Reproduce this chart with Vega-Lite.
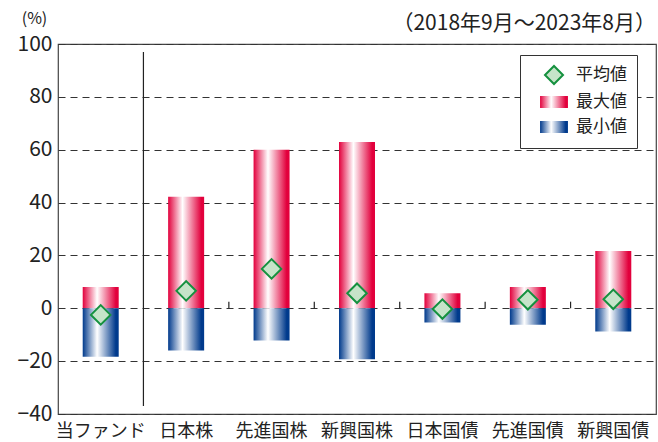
{
  "$schema": "https://vega.github.io/schema/vega-lite/v6.json",
  "width": 598,
  "height": 370,
  "autosize": {"type": "none"},
  "padding": {"left": 58, "top": 44, "right": 2, "bottom": 28},
  "config": {
    "font": "Noto Sans CJK JP",
    "view": {"stroke": "#444", "strokeWidth": 1.2},
    "axis": {"labelColor": "#222", "titleColor": "#222"},
    "legend": {
      "orient": "none", "legendX": 462, "legendY": 11,
      "strokeColor": "#333", "fillColor": "white", "padding": 10, "cornerRadius": 0,
      "labelFontSize": 17, "labelColor": "#222", "rowPadding": 3, "labelOffset": 12,
      "symbolOffset": 14, "symbolSize": 324, "symbolOpacity": 1
    }
  },
  "title": {"text": "（2018年9月～2023年8月）", "anchor": "end", "fontSize": 21, "fontWeight": "normal", "color": "#222", "offset": 9, "dy": 33, "font": "Noto Sans CJK JP"},
  "data": {"values": [
    {"cat": "当ファンド", "series": "最大値", "value": 8.1},
    {"cat": "当ファンド", "series": "最小値", "value": -18.3},
    {"cat": "当ファンド", "series": "平均値", "value": -2.5},
    {"cat": "日本株", "series": "最大値", "value": 42.2},
    {"cat": "日本株", "series": "最小値", "value": -16.0},
    {"cat": "日本株", "series": "平均値", "value": 6.6},
    {"cat": "先進国株", "series": "最大値", "value": 60.0},
    {"cat": "先進国株", "series": "最小値", "value": -12.2},
    {"cat": "先進国株", "series": "平均値", "value": 14.9},
    {"cat": "新興国株", "series": "最大値", "value": 62.9},
    {"cat": "新興国株", "series": "最小値", "value": -19.3},
    {"cat": "新興国株", "series": "平均値", "value": 5.7},
    {"cat": "日本国債", "series": "最大値", "value": 5.7},
    {"cat": "日本国債", "series": "最小値", "value": -5.4},
    {"cat": "日本国債", "series": "平均値", "value": -0.3},
    {"cat": "先進国債", "series": "最大値", "value": 8.1},
    {"cat": "先進国債", "series": "最小値", "value": -6.2},
    {"cat": "先進国債", "series": "平均値", "value": 3.2},
    {"cat": "新興国債", "series": "最大値", "value": 21.7},
    {"cat": "新興国債", "series": "最小値", "value": -8.8},
    {"cat": "新興国債", "series": "平均値", "value": 3.4}
  ]},
  "encoding": {
    "x": {
      "field": "cat", "type": "nominal",
      "sort": ["当ファンド", "日本株", "先進国株", "新興国株", "日本国債", "先進国債", "新興国債"],
      "scale": {"paddingInner": 0, "paddingOuter": 0},
      "axis": {"title": null, "labelAngle": 0, "ticks": false, "domain": false, "labelPadding": 8, "labelFontSize": 18, "labelColor": "#222"}
    }
  },
  "layer": [
    {
      "transform": [{"filter": "datum.series === '最大値'"}],
      "mark": {"type": "bar", "width": 36, "color": {"gradient": "linear", "x1": 0, "x2": 1, "y1": 0, "y2": 0, "stops": [
        {"offset": 0, "color": "#e2003c"},
        {"offset": 0.4, "color": "#ffffff"},
        {"offset": 0.92, "color": "#e2003c"},
        {"offset": 1, "color": "#e2003c"}
      ]}},
      "encoding": {
        "y": {
          "field": "value", "type": "quantitative",
          "scale": {"domain": [-40, 100], "nice": false, "zero": false},
          "axis": {
            "values": [-40, -20, 0, 20, 40, 60, 80, 100],
            "grid": true, "gridColor": "#333", "gridDash": [7, 5], "gridWidth": 1,
            "domain": false, "ticks": false, "labelPadding": 6, "labelFontSize": 21,
            "title": "(%)", "titleAngle": 0, "titleX": -24, "titleY": -26, "titleAlign": "center",
            "titleBaseline": "middle", "titleFontSize": 16, "titleFontWeight": "normal"
          }
        },
        "y2": {"datum": 0}
      }
    },
    {
      "transform": [{"filter": "datum.series === '最小値'"}],
      "mark": {"type": "bar", "width": 36, "color": {"gradient": "linear", "x1": 0, "x2": 1, "y1": 0, "y2": 0, "stops": [
        {"offset": 0, "color": "#003a8c"},
        {"offset": 0.4, "color": "#ffffff"},
        {"offset": 0.92, "color": "#003a8c"},
        {"offset": 1, "color": "#003a8c"}
      ]}},
      "encoding": {
        "y": {"field": "value", "type": "quantitative"},
        "y2": {"datum": 0}
      }
    },
    {
      "mark": {"type": "rule", "color": "#222", "strokeWidth": 1.3},
      "encoding": {"y": {"datum": 0}}
    },
    {
      "transform": [{"filter": "datum.series === '最大値' && datum.cat !== '当ファンド' && datum.cat !== '日本株'"}],
      "mark": {"type": "rule", "color": "#222", "strokeWidth": 1.2},
      "encoding": {
        "x": {"field": "cat", "type": "nominal", "bandPosition": 0},
        "y": {"datum": 0},
        "y2": {"datum": 2.5}
      }
    },
    {
      "transform": [{"filter": "datum.series === '最大値' && datum.cat === '日本株'"}],
      "mark": {"type": "rule", "color": "#222", "strokeWidth": 1.2},
      "encoding": {
        "x": {"field": "cat", "type": "nominal", "bandPosition": 0},
        "y": {"datum": 97},
        "y2": {"datum": -37}
      }
    },
    {
      "transform": [{"filter": "datum.series === '平均値'"}],
      "mark": {"type": "point", "filled": true, "fill": "#c6e4c9", "color": "#c6e4c9", "stroke": "#15913f", "size": 380, "strokeWidth": 2, "opacity": 1},
      "encoding": {
        "y": {"field": "value", "type": "quantitative"},
        "shape": {
          "field": "series", "type": "nominal",
          "scale": {"domain": ["平均値", "最大値", "最小値"], "range": ["diamond", "M-1.55,-0.67H1.55V0.67H-1.55Z", "M-1.55,-0.67H1.55V0.67H-1.55Z"]},
          "legend": {
            "title": null,
            "encoding": {
              "symbols": {
                "fill": {"value": {"expr": "datum.value === '最大値' ? {gradient: 'linear', x1: 0, x2: 1, y1: 0, y2: 0, stops: [{offset: 0, color: '#e2003c'}, {offset: 0.4, color: '#ffffff'}, {offset: 0.92, color: '#e2003c'}, {offset: 1, color: '#e2003c'}]} : datum.value === '最小値' ? {gradient: 'linear', x1: 0, x2: 1, y1: 0, y2: 0, stops: [{offset: 0, color: '#003a8c'}, {offset: 0.4, color: '#ffffff'}, {offset: 0.92, color: '#003a8c'}, {offset: 1, color: '#003a8c'}]} : '#c6e4c9'"}},
                "stroke": {"value": {"expr": "datum.value === '平均値' ? '#15913f' : 'transparent'"}},
                "strokeWidth": {"value": 2}
              }
            }
          }
        }
      }
    }
  ]
}
